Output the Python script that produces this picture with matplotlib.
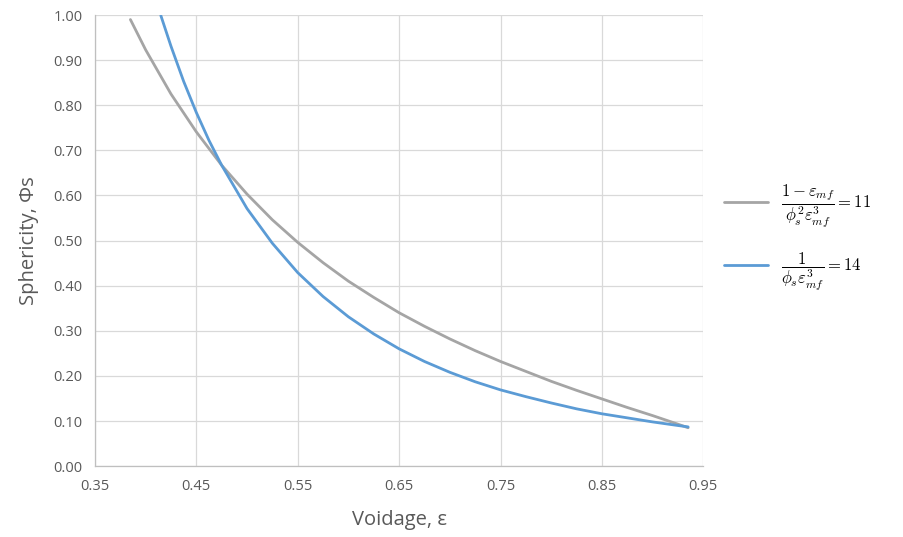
import matplotlib.pyplot as plt

plt.rcParams['font.family'] = ['Open Sans', 'DejaVu Sans']
plt.rcParams['mathtext.fontset'] = 'cm'

# voidage values and the sphericity read at each one
voidage_gris = [0.385, 0.40, 0.425, 0.45, 0.475, 0.50, 0.525, 0.55, 0.575, 0.60,
                0.625, 0.65, 0.675, 0.70, 0.725, 0.75, 0.775, 0.80, 0.825, 0.85,
                0.875, 0.90, 0.925, 0.935]
esfericidad_gris = [0.990, 0.923, 0.825, 0.741, 0.667, 0.603, 0.546, 0.496, 0.451, 0.410,
                    0.374, 0.340, 0.310, 0.282, 0.256, 0.232, 0.210, 0.188, 0.168, 0.149,
                    0.130, 0.112, 0.093, 0.085]

voidage_azul = [0.415, 0.425, 0.4375, 0.45, 0.4625, 0.475, 0.50, 0.525, 0.55, 0.575,
                0.60, 0.625, 0.65, 0.675, 0.70, 0.725, 0.75, 0.775, 0.80, 0.825,
                0.85, 0.875, 0.90, 0.925, 0.935]
esfericidad_azul = [0.999, 0.931, 0.853, 0.784, 0.722, 0.667, 0.571, 0.494, 0.429, 0.376,
                    0.331, 0.293, 0.260, 0.232, 0.208, 0.187, 0.169, 0.154, 0.140, 0.127,
                    0.116, 0.107, 0.098, 0.090, 0.087]

etiqueta_gris = r'$\dfrac{1-\varepsilon_{mf}}{\phi_s^2\varepsilon_{mf}^3}=11$'
etiqueta_azul = r'$\dfrac{1}{\phi_s\varepsilon_{mf}^3}=14$'

xticks = [0.35, 0.45, 0.55, 0.65, 0.75, 0.85, 0.95]
yticks = [0.0, 0.1, 0.2, 0.3, 0.4, 0.5, 0.6, 0.7, 0.8, 0.9, 1.0]

fig = plt.figure(figsize=(9.04, 5.37), dpi=100)
ax = fig.add_axes([0.105, 0.132, 0.673, 0.840])

ax.plot(voidage_gris, esfericidad_gris, color='#a5a5a5', lw=2.0, label=etiqueta_gris,
        solid_capstyle='round')
ax.plot(voidage_azul, esfericidad_azul, color='#5b9bd5', lw=2.0, label=etiqueta_azul,
        solid_capstyle='round')

ax.set_xlim(0.35, 0.95)
ax.set_ylim(0.0, 1.0)
ax.set_xticks(xticks)
ax.set_xticklabels([f'{t:.2f}' for t in xticks])
ax.set_yticks(yticks)
ax.set_yticklabels([f'{t:.2f}' for t in yticks])
ax.grid(True, color='#d9d9d9', lw=0.9)
ax.set_axisbelow(True)

for lado in ['top', 'right']:
    ax.spines[lado].set_visible(False)
for lado in ['left', 'bottom']:
    ax.spines[lado].set_color('#bfbfbf')
    ax.spines[lado].set_linewidth(0.9)

ax.tick_params(length=0, labelsize=10.5, labelcolor='#595959', pad=9)

ax.set_xlabel('Voidage, ε', fontsize=14.5, color='#595959', labelpad=12)
ax.set_ylabel('Sphericity, Φs', fontsize=14.5, color='#595959', labelpad=10)

ax.legend(loc='center left', bbox_to_anchor=(1.01, 0.505), frameon=False,
          fontsize=12, handlelength=2.6, labelspacing=1.25, handletextpad=0.8)

fig.savefig('out.png', dpi=100)
